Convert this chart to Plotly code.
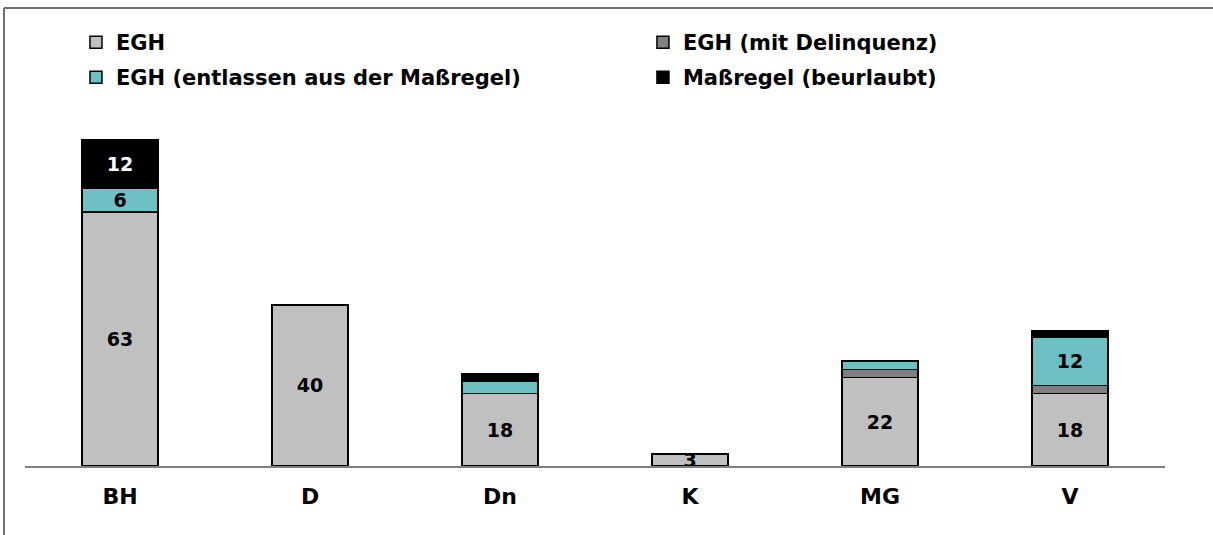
import plotly.graph_objects as go

categories = ["BH", "D", "Dn", "K", "MG", "V"]
egh = [63, 40, 18, 3, 22, 18]
egh_delinquenz = [0, 0, 0, 0, 2, 2]
egh_entlassen = [6, 0, 3, 0, 2, 12]
massregel = [12, 0, 2, 0, 0, 1.5]

series = [
    ("EGH", egh, "#C0C0C0", "black", [True] * 6, "legend"),
    ("EGH (mit Delinquenz)", egh_delinquenz, "#808080", "black", [False] * 6, "legend"),
    ("EGH (entlassen aus der Maßregel)", egh_entlassen, "#6FC0C4", "black",
     [True, False, False, False, False, True], "legend2"),
    ("Maßregel (beurlaubt)", massregel, "#000000", "white",
     [True, False, False, False, False, False], "legend2"),
]

fig = go.Figure()
for name, values, color, text_color, show, leg in series:
    fig.add_trace(go.Bar(
        x=categories,
        y=values,
        name=name,
        legend=leg,
        width=0.4,
        marker=dict(color=color, line=dict(color="black", width=1.5)),
        text=[str(v) if s and v else "" for v, s in zip(values, show)],
        textposition="inside",
        insidetextanchor="middle",
        textangle=0,
        textfont=dict(color=text_color, size=19,
                      family="DejaVu Sans", weight="bold"),
    ))

# chart frame: top and left edge
frame_left = (4 - 25) / 1140
frame_top = 1 + (63 - 8) / 403
fig.add_shape(type="line", xref="paper", yref="paper",
              x0=frame_left, x1=1.1, y0=frame_top, y1=frame_top,
              line=dict(color="#6F6F6F", width=2))
fig.add_shape(type="line", xref="paper", yref="paper",
              x0=frame_left, x1=frame_left, y0=-0.3, y1=frame_top,
              line=dict(color="#6F6F6F", width=2))

legend_style = dict(
    orientation="h",
    x=0.0447, xanchor="left",
    yanchor="top",
    entrywidth=522,
    entrywidthmode="pixels",
    itemwidth=30,
    traceorder="normal",
    font=dict(size=21, family="DejaVu Sans", weight="bold"),
    bgcolor="rgba(0,0,0,0)",
)

fig.update_layout(
    barmode="stack",
    width=1213,
    height=535,
    margin=dict(l=25, r=48, t=63, b=69, autoexpand=False),
    paper_bgcolor="white",
    plot_bgcolor="white",
    font=dict(family="DejaVu Sans", size=18, color="black", weight="bold"),
    uniformtext=dict(minsize=16, mode="show"),
    legend=dict(legend_style, y=1 + (63 - 22) / 403),
    legend2=dict(legend_style, y=1 + (63 - 57) / 403),
)
fig.update_xaxes(showline=True, linecolor="#808080", linewidth=2,
                 showgrid=False, ticks="", ticklabelstandoff=10,
                 tickfont=dict(size=22, weight="bold"))
fig.update_yaxes(visible=False, range=[0, 100], showgrid=False)

fig.write_html("out.html", config={"displayModeBar": False},
               post_script="document.body.style.margin = '0';")
